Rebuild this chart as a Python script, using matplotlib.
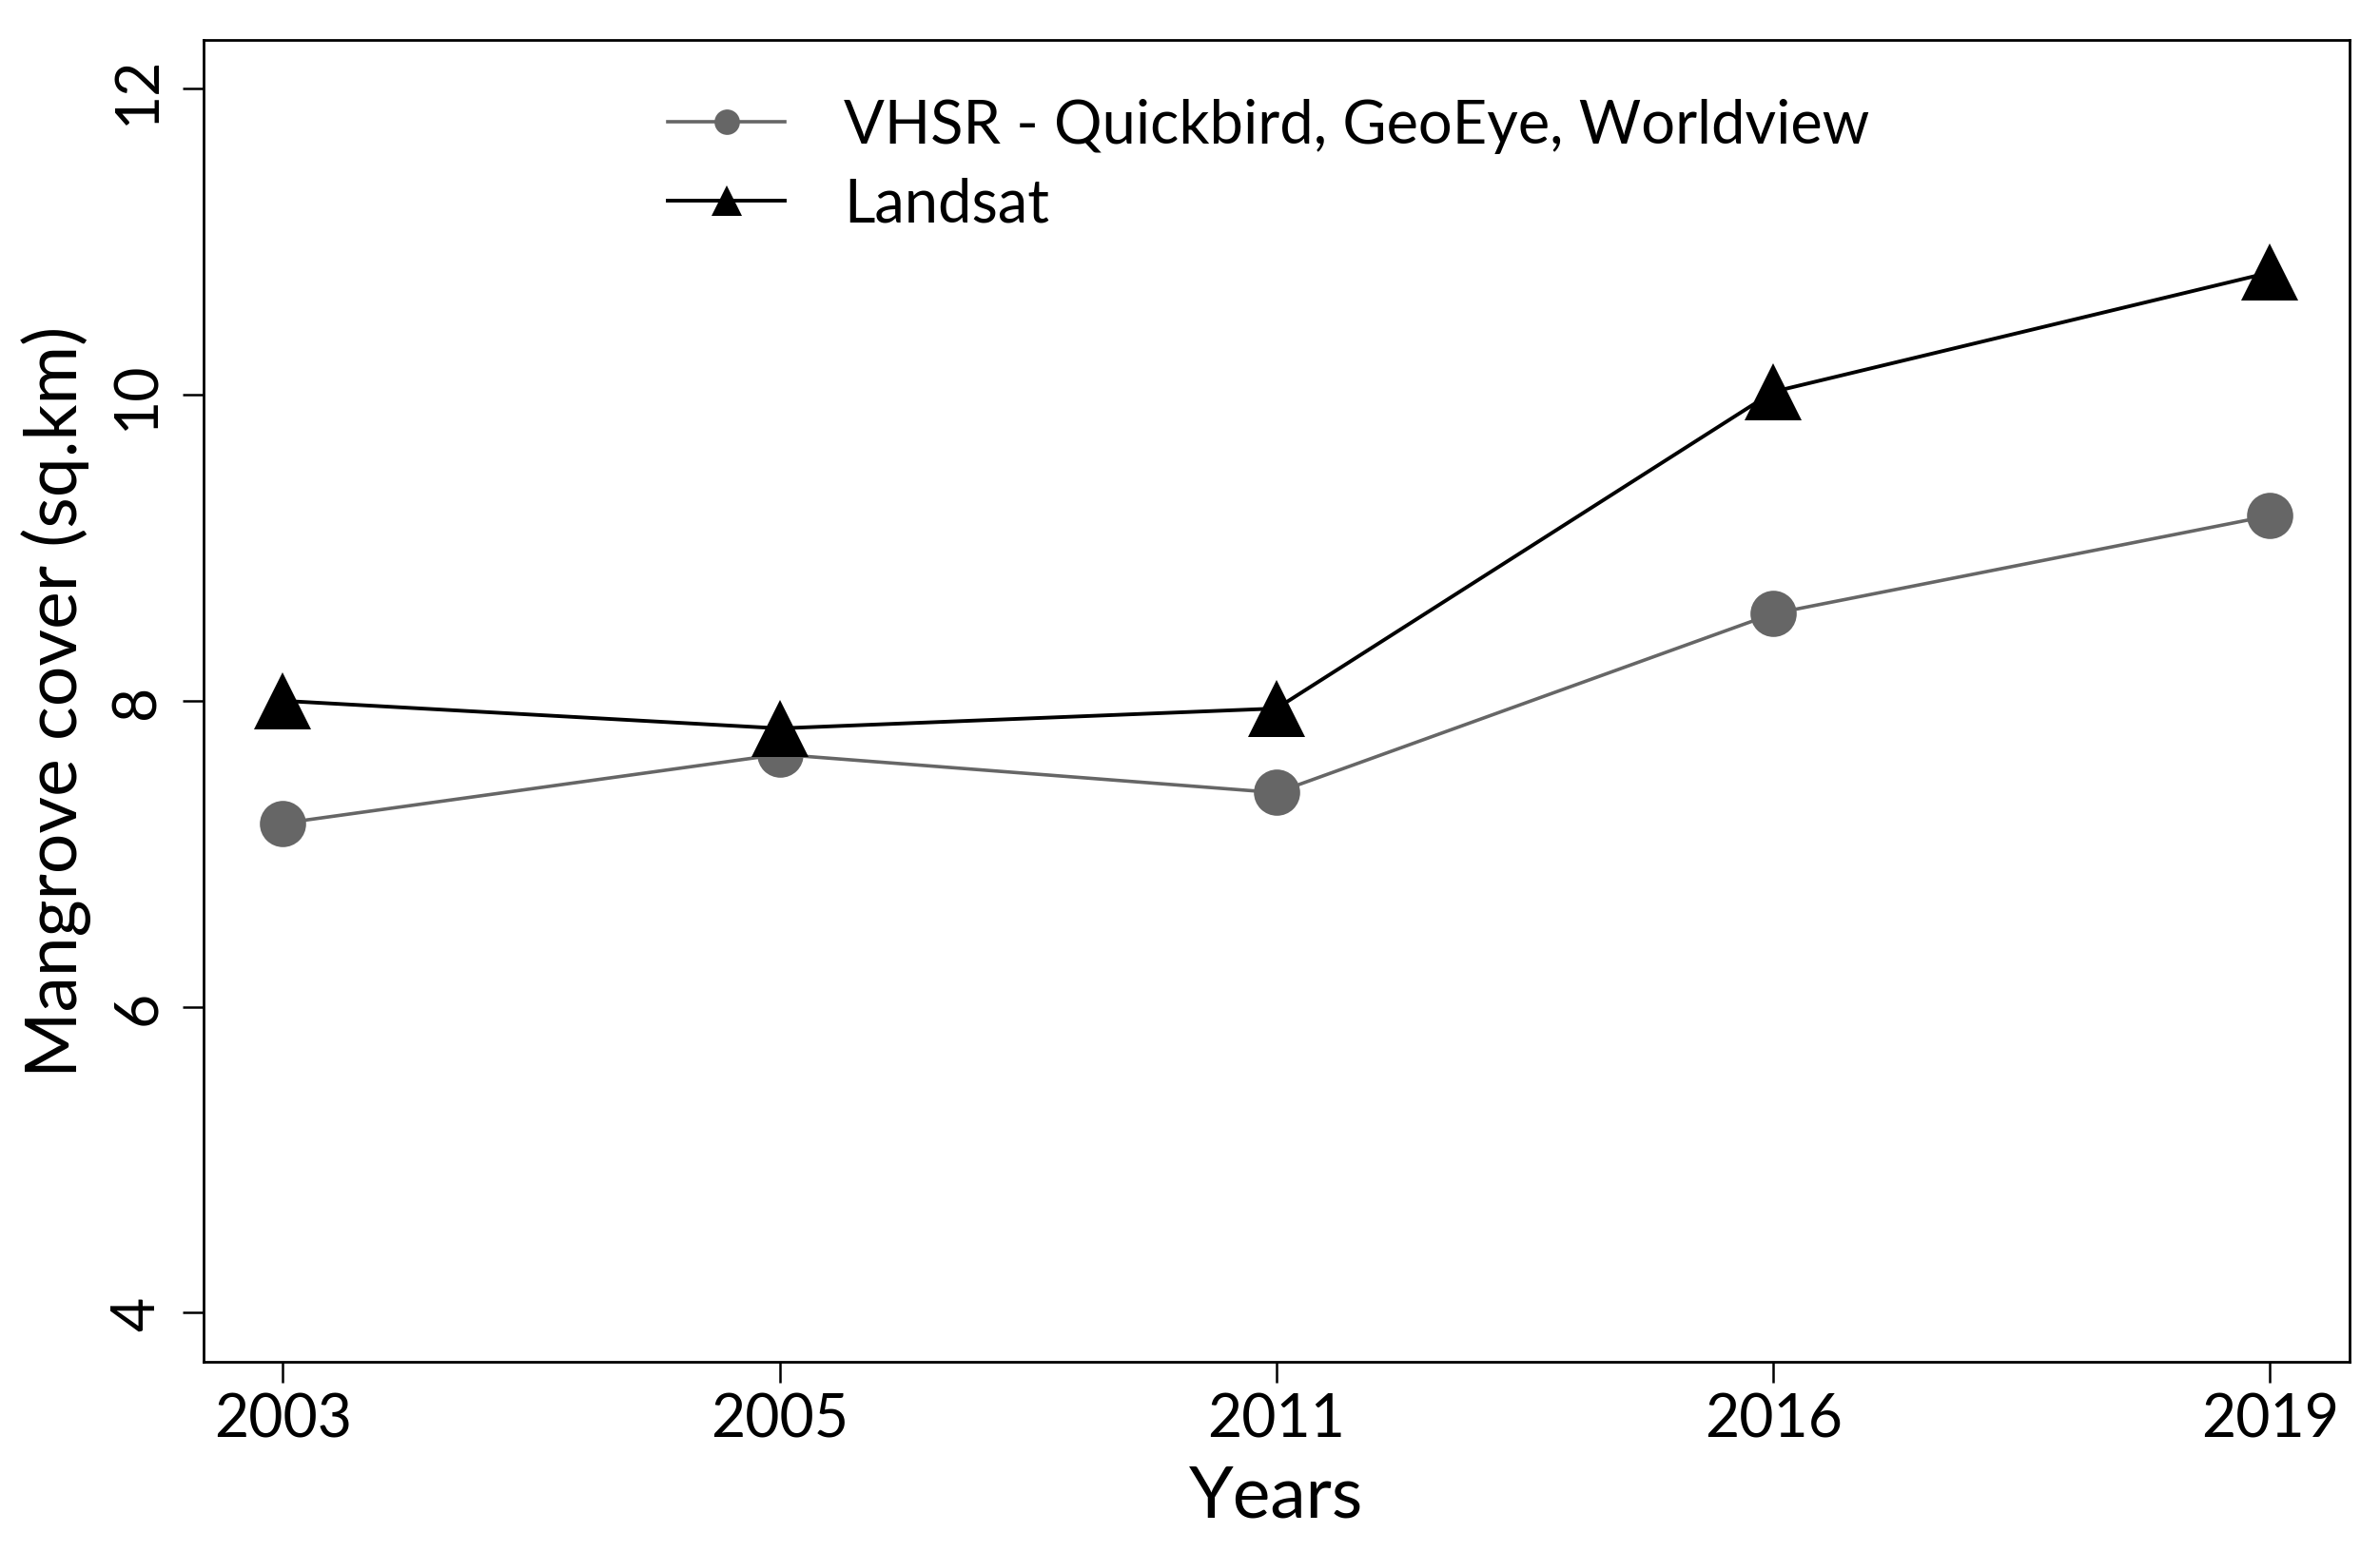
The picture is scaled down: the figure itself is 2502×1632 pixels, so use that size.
import numpy as np
import matplotlib as mpl
mpl.use("Agg")
import matplotlib.pyplot as plt

# datos
years = ["2003", "2005", "2011", "2016", "2019"]
vhsr = [7.20, 7.65, 7.40, 8.57, 9.21]
landsat = [8.00, 7.82, 7.95, 10.02, 10.80]
yticks = [4, 6, 8, 10, 12]

plt.rcParams['font.family'] = ['Lato', 'DejaVu Sans']

fig = plt.figure(figsize=(25.02, 16.33), dpi=100)
ax = fig.add_axes([0.0855, 0.1225, 0.9017, 0.8512])

x = np.arange(1, len(years) + 1)

ax.plot(x, vhsr, color='#666666', lw=2.6, marker='o', markersize=35,
        markeredgewidth=0, label='VHSR - Quickbird, GeoEye, Worldview')
ax.plot(x, landsat, color='black', lw=2.8, marker='^', markersize=43,
        markeredgewidth=0, label='Landsat')

# rango estilo R (4% extra)
ax.set_xlim(1 - 0.16, 5 + 0.16)
ax.set_ylim(4 - 0.32, 12 + 0.32)

ax.set_xticks(x)
ax.set_xticklabels(years)
ax.set_yticks(yticks)
ax.set_yticklabels([str(v) for v in yticks], rotation=90, va='center')

ax.tick_params(axis='both', length=16, width=1.8, labelsize=45, direction='out')
ax.tick_params(axis='x', pad=7)
ax.tick_params(axis='y', pad=13)

for sp in ax.spines.values():
    sp.set_linewidth(2.0)

ax.set_xlabel('Years', fontsize=54)
ax.xaxis.set_label_coords(0.5, -0.0770)
ax.set_ylabel('Mangrove cover (sq.km)', fontsize=54)
ax.yaxis.set_label_coords(-0.0523, 0.5)

leg = ax.legend(loc='upper left', bbox_to_anchor=(702 / 2502, 1 - 104 / 1633),
                bbox_transform=fig.transFigure, frameon=False, fontsize=45.5,
                markerscale=0.55, handlelength=1.95, handletextpad=0.98,
                labelspacing=0.39, borderpad=0, borderaxespad=0)

fig.savefig('out.png', dpi=100)
